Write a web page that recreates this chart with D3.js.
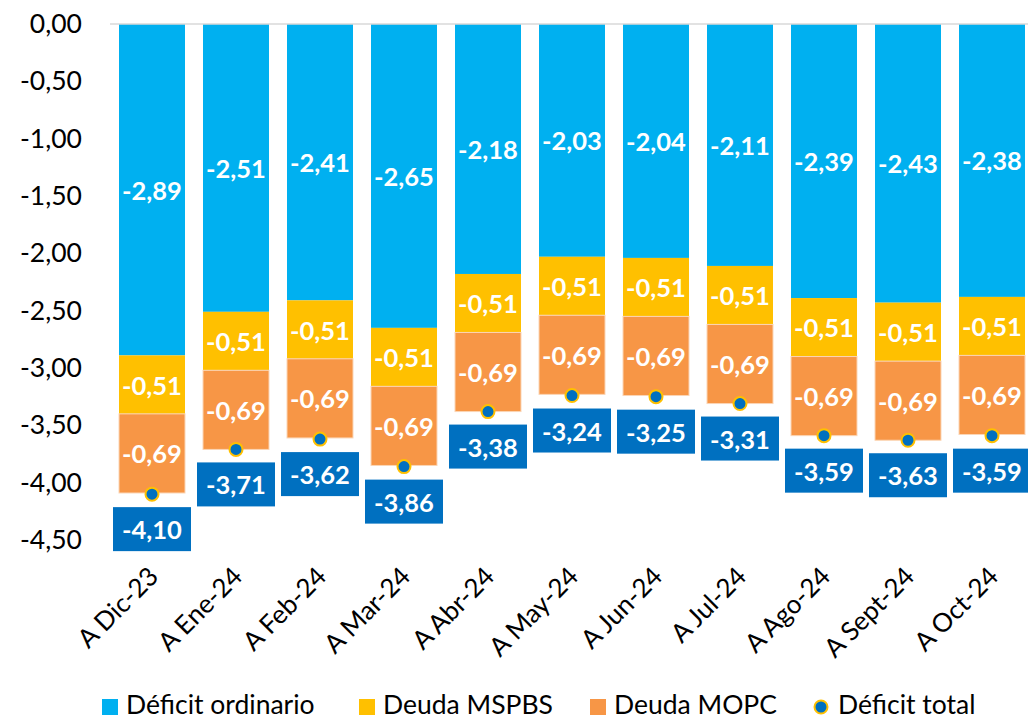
<!DOCTYPE html>
<html>
<head>
<meta charset="utf-8">
<script src="https://cdn.jsdelivr.net/npm/d3@7"></script>
<style>
  html, body { margin: 0; padding: 0; background: #fff; }
  svg { display: block; font-family: Lato, "Open Sans", sans-serif; }
</style>
</head>
<body>
<svg id="chart" width="1028" height="719"></svg>
<script>
// Monthly accumulated fiscal deficit (% of GDP), by component
const categories = ["A Dic-23", "A Ene-24", "A Feb-24", "A Mar-24", "A Abr-24", "A May-24",
                    "A Jun-24", "A Jul-24", "A Ago-24", "A Sept-24", "A Oct-24"];
const deficitOrdinario = [-2.89, -2.51, -2.41, -2.65, -2.18, -2.03, -2.04, -2.11, -2.39, -2.43, -2.38];
const deudaMSPBS      = [-0.51, -0.51, -0.51, -0.51, -0.51, -0.51, -0.51, -0.51, -0.51, -0.51, -0.51];
const deudaMOPC       = [-0.69, -0.69, -0.69, -0.69, -0.69, -0.69, -0.69, -0.69, -0.69, -0.69, -0.69];
const deficitTotal    = [-4.10, -3.71, -3.62, -3.86, -3.38, -3.24, -3.25, -3.31, -3.59, -3.63, -3.59];
const yTicks = [0, -0.5, -1, -1.5, -2, -2.5, -3, -3.5, -4, -4.5];

const seriesNames = ["Déficit ordinario", "Deuda MSPBS", "Deuda MOPC"];
const seriesColors = ["#00B0F0", "#FFC000", "#F79646"];
const totalColor = "#0070C0";

const fmt = v => d3.format(".2f")(v).replace("−", "-").replace(".", ",");

const svg = d3.select("#chart");

const x = d3.scaleBand()
  .domain(categories)
  .range([110, 1034])
  .paddingInner(18 / 84)
  .paddingOuter(9 / 84);

const y = d3.scaleLinear().domain([0, -4.5]).range([24, 540]);

// y axis labels
const yAxis = svg.append("g")
  .attr("transform", "translate(82,0)")
  .call(d3.axisLeft(y).tickValues(yTicks).tickSize(0).tickPadding(0).tickFormat(fmt));
yAxis.select(".domain").remove();
yAxis.selectAll("text")
  .attr("font-size", 26.5)
  .attr("fill", "#000")
  .attr("font-family", "Lato, sans-serif");

// stacked segments
const rows = categories.map((c, i) => ({
  cat: c,
  vals: [deficitOrdinario[i], deudaMSPBS[i], deudaMOPC[i]]
}));

rows.forEach(r => {
  let acc = 0;
  r.segs = r.vals.map((v, k) => {
    const s = { y0: acc, y1: acc + v, v, k };
    acc += v;
    return s;
  });
});

const barG = svg.append("g");
rows.forEach(r => {
  const g = barG.append("g");
  g.selectAll("rect")
    .data(r.segs)
    .join("rect")
    .attr("x", x(r.cat))
    .attr("width", x.bandwidth())
    .attr("y", d => y(d.y0))
    .attr("height", d => y(d.y1) - y(d.y0))
    .attr("fill", d => seriesColors[d.k])
    .attr("stroke", d => d.k === 2 ? "#FBD5B5" : "none")
    .attr("stroke-width", 1);
  g.selectAll("text")
    .data(r.segs)
    .join("text")
    .attr("x", x(r.cat) + x.bandwidth() / 2)
    .attr("y", d => (y(d.y0) + y(d.y1)) / 2)
    .attr("text-anchor", "middle")
    .attr("dominant-baseline", "central")
    .attr("font-size", 25.5)
    .attr("font-weight", "bold")
    .attr("fill", "#fff")
    .text(d => fmt(d.v));
});

// zero line
svg.append("line")
  .attr("x1", 110).attr("x2", 1028)
  .attr("y1", y(0)).attr("y2", y(0))
  .attr("stroke", "#D9D9D9").attr("stroke-width", 1.5);

// total markers and label boxes
const totG = svg.append("g");
categories.forEach((c, i) => {
  const cx = x(c) + x.bandwidth() / 2;
  const cy = y(deficitTotal[i]);
  totG.append("rect")
    .attr("x", cx - 39).attr("y", cy + 13)
    .attr("width", 78).attr("height", 44)
    .attr("fill", totalColor);
  totG.append("text")
    .attr("x", cx).attr("y", cy + 35)
    .attr("text-anchor", "middle")
    .attr("dominant-baseline", "central")
    .attr("font-size", 25.5)
    .attr("font-weight", "bold")
    .attr("fill", "#fff")
    .text(fmt(deficitTotal[i]));
  totG.append("circle")
    .attr("cx", cx).attr("cy", cy).attr("r", 6.5)
    .attr("fill", totalColor)
    .attr("stroke", "#FFC000").attr("stroke-width", 2);
});

// category labels
svg.append("g").selectAll("text")
  .data(categories)
  .join("text")
  .attr("transform", d => `translate(${x(d) + x.bandwidth() / 2 + 8},578) rotate(-45)`)
  .attr("text-anchor", "end")
  .attr("font-size", 26)
  .attr("fill", "#000")
  .text(d => d);

// legend
const legendItems = [
  { name: seriesNames[0], color: seriesColors[0], type: "rect", x: 102 },
  { name: seriesNames[1], color: seriesColors[1], type: "rect", x: 359 },
  { name: seriesNames[2], color: seriesColors[2], type: "rect", x: 590 },
  { name: "Déficit total", color: totalColor, type: "circle", x: 814 }
];
const lg = svg.append("g");
legendItems.forEach(it => {
  if (it.type === "rect") {
    lg.append("rect").attr("x", it.x).attr("y", 699).attr("width", 16).attr("height", 16).attr("fill", it.color);
  } else {
    lg.append("circle").attr("cx", it.x + 7).attr("cy", 707).attr("r", 6.5)
      .attr("fill", it.color).attr("stroke", "#FFC000").attr("stroke-width", 2);
  }
  lg.append("text")
    .attr("x", it.x + 24).attr("y", 714)
    .attr("font-size", 26.5)
    .attr("fill", "#000")
    .text(it.name);
});
</script>
</body>
</html>
